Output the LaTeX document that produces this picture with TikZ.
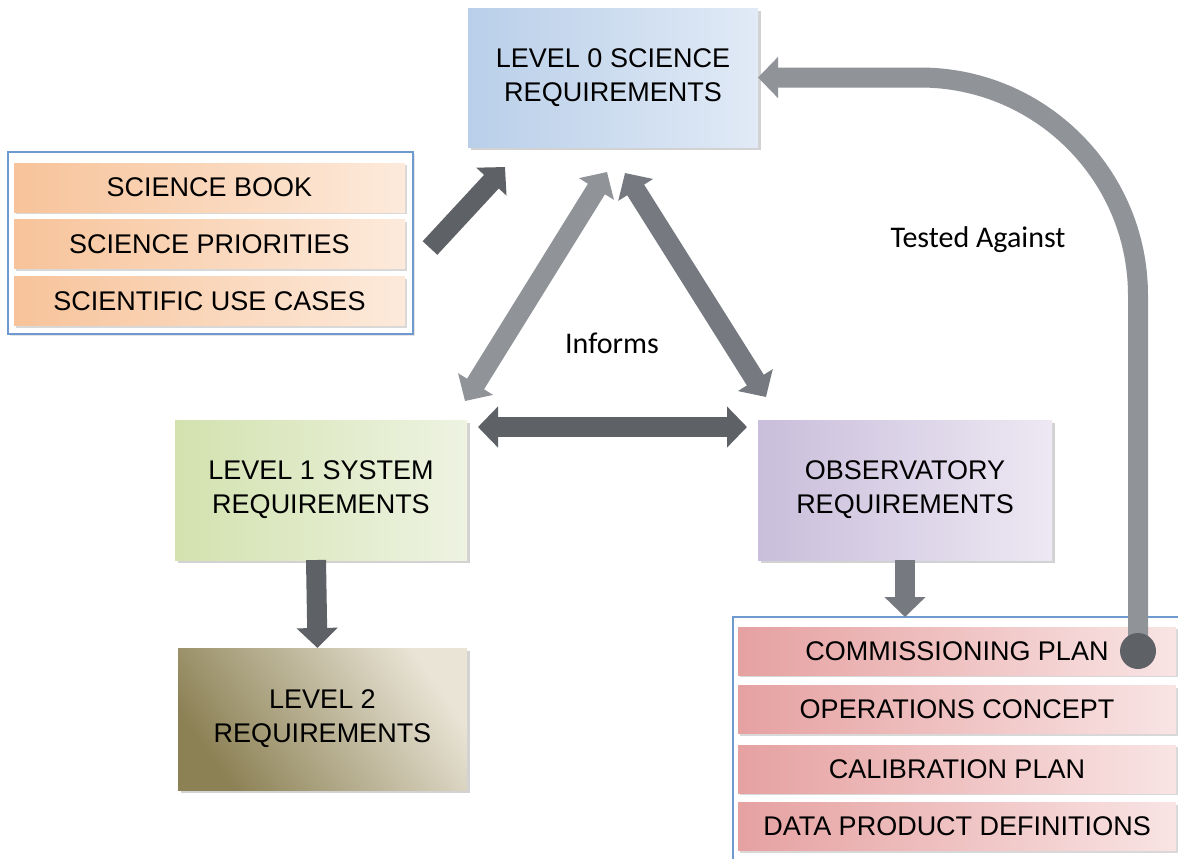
\documentclass[tikz,border=0pt]{standalone}
\usepackage{fontspec}
\setmainfont{Liberation Sans}
\newfontfamily\notefont{Carlito}
\usetikzlibrary{arrows.meta}
\usetikzlibrary{calc}
\usetikzlibrary{shadows}

\definecolor{lzeroL}{HTML}{B9CFE9}
\definecolor{lzeroR}{HTML}{E1EAF6}
\definecolor{loneL}{HTML}{D3E2AF}
\definecolor{loneR}{HTML}{EEF3E2}
\definecolor{obsL}{HTML}{C9BEDB}
\definecolor{obsR}{HTML}{EDE8F3}
\definecolor{ltwoL}{HTML}{8C8155}
\definecolor{ltwoR}{HTML}{E9E4D6}
\definecolor{sciL}{HTML}{F7C39A}
\definecolor{sciR}{HTML}{FDEADB}
\definecolor{opsL}{HTML}{E6A1A1}
\definecolor{opsR}{HTML}{F9E4E4}
\definecolor{frame}{HTML}{6E9AD0}
\definecolor{gDark}{HTML}{5E6166}
\definecolor{gMid}{HTML}{767A80}
\definecolor{gLight}{HTML}{909398}

\tikzset{
  req/.style={rectangle, align=center, inner sep=0pt, outer sep=0pt,
    font=\fontsize{13.5}{17}\selectfont,
    drop shadow={shadow xshift=1.5pt,shadow yshift=-1.5pt,opacity=.35}},
  item/.style={rectangle, inner sep=0pt, outer sep=0pt,
    font=\fontsize{13.5}{16}\selectfont,
    drop shadow={shadow xshift=1pt,shadow yshift=-1pt,opacity=.3}},
  group/.style={rectangle, draw=frame, line width=0.9pt, fill=white,
    inner sep=0pt, outer sep=0pt,
    drop shadow={shadow xshift=1pt,shadow yshift=-1pt,opacity=.2}},
  flow/.style={line width=10pt, draw=#1, -{Triangle[width=20pt,length=10pt]}},
  flow/.default=gMid,
  both/.style={flow=#1, {Triangle[width=20pt,length=10pt]}-{Triangle[width=20pt,length=10pt]}},
  both/.default=gMid,
  dot/.style={circle, fill=gDark, minimum size=18pt, inner sep=0pt},
  note/.style={font=\notefont\fontsize{15}{18}\selectfont},
}

\begin{document}
\begin{tikzpicture}[x=0.5pt,y=-0.5pt]
  \path[use as bounding box, clip] (0,0) rectangle (1178,858);
  \fill[white] (0,0) rectangle (1178,858);

  % requirement boxes
  \node[req, left color=lzeroL, right color=lzeroR, minimum width=145pt, minimum height=69.5pt]
    (lev0) at (613,77.5) {LEVEL 0 SCIENCE\\REQUIREMENTS};
  \node[req, left color=loneL, right color=loneR, minimum width=146pt, minimum height=70pt]
    (lev1) at (321,490) {LEVEL 1 SYSTEM\\REQUIREMENTS};
  \node[req, left color=obsL, right color=obsR, minimum width=147pt, minimum height=70pt]
    (obs) at (905,490) {OBSERVATORY\\REQUIREMENTS};
  \node[req, left color=ltwoL, right color=ltwoR, shading angle=125, minimum width=144.5pt, minimum height=71pt]
    (lev2) at (322.5,719) {LEVEL 2\\REQUIREMENTS};

  % science inputs
  \node[group, minimum width=202.5pt, minimum height=91pt] (sources) at (210.5,243) {};
  \foreach \y/\n/\t in {187.5/1/SCIENCE BOOK, 244/2/SCIENCE PRIORITIES, 301/3/SCIENTIFIC USE CASES}
    \node[item, left color=sciL, right color=sciR, minimum width=195.5pt, minimum height=24.5pt]
      (sci\n) at (209.5,\y) {\t};

  % operations documents
  \node[group, minimum width=228.5pt, minimum height=126.5pt] (ops) at (961.5,743.5) {};
  \foreach \y/\n/\t in {651/1/COMMISSIONING PLAN, 709.5/2/OPERATIONS CONCEPT,
                        769/3/CALIBRATION PLAN, 826.5/4/DATA PRODUCT DEFINITIONS}
    \node[item, left color=opsL, right color=opsR, minimum width=219pt, minimum height=24pt]
      (ops\n) at (957,\y) {\t};

  % arrows
  \draw[flow=gDark] ($(sources.east)+(17,5)$) -- ($(lev0.south west)+(37,20)$);
  \draw[both=gLight] ($(lev1.north east)+(-2,-19)$) -- ($(lev0.south)+(-6,25)$);
  \draw[both=gMid] ($(lev0.south)+(12,26)$) -- ($(obs.north west)+(8,-23)$);
  \draw[both=gDark] ($(lev1.north east)+(11,7)$) -- ($(obs.north west)+(-11,7)$);
  \draw[flow=gDark] ([xshift=-2.5pt]lev1.south) -- ([xshift=-2.5pt]lev2.north);
  \draw[flow=gMid] (obs.south) -- (obs.south |- ops.north);

  \coordinate (tstart) at (1138,651);
  \draw[flow=gLight, rounded corners=109pt] (tstart) |- (lev0.east);
  \node[dot] (tdot) at (tstart) {};

  \node[note] (informs) at (612,343) {Informs};
  \node[note] (tested) at (978,240) {Tested Against};
\end{tikzpicture}
\end{document}
